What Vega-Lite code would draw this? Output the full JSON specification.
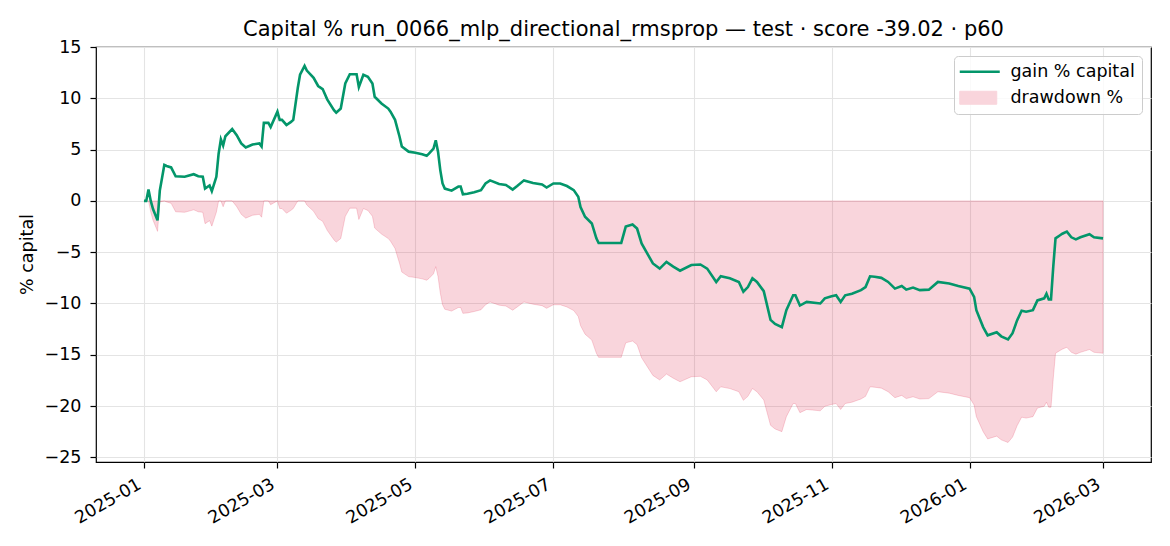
{
  "$schema": "https://vega.github.io/schema/vega-lite/v6.json",
  "description": "Capital % and drawdown % over the test period",
  "width": 1055,
  "height": 415,
  "autosize": {"type": "none"},
  "padding": {"left": 96, "top": 47, "right": 19, "bottom": 84},
  "title": {
    "text": "Capital % run_0066_mlp_directional_rmsprop — test · score -39.02 · p60",
    "font": "DejaVu Sans",
    "fontSize": 21,
    "fontWeight": "normal",
    "color": "black",
    "anchor": "middle",
    "baseline": "alphabetic",
    "offset": 11,
    "dy": 30
  },
  "data": {
    "values": [
      {"d": "2025-01-01", "gain": 0, "dd": 0},
      {"d": "2025-01-02", "gain": 0, "dd": 0},
      {"d": "2025-01-03", "gain": 1.1, "dd": 0},
      {"d": "2025-01-04", "gain": 0, "dd": -1.09},
      {"d": "2025-01-05", "gain": -0.8, "dd": -1.88},
      {"d": "2025-01-07", "gain": -1.9, "dd": -2.97},
      {"d": "2025-01-08", "gain": 1.0, "dd": -0.10},
      {"d": "2025-01-10", "gain": 3.5, "dd": 0},
      {"d": "2025-01-11", "gain": 3.4, "dd": -0.10},
      {"d": "2025-01-13", "gain": 3.26, "dd": -0.23},
      {"d": "2025-01-15", "gain": 2.4, "dd": -1.06},
      {"d": "2025-01-19", "gain": 2.35, "dd": -1.11},
      {"d": "2025-01-23", "gain": 2.6, "dd": -0.87},
      {"d": "2025-01-25", "gain": 2.4, "dd": -1.06},
      {"d": "2025-01-27", "gain": 2.35, "dd": -1.11},
      {"d": "2025-01-28", "gain": 1.2, "dd": -2.22},
      {"d": "2025-01-30", "gain": 1.5, "dd": -1.93},
      {"d": "2025-01-31", "gain": 0.95, "dd": -2.46},
      {"d": "2025-02-02", "gain": 2.35, "dd": -1.11},
      {"d": "2025-02-03", "gain": 4.6, "dd": 0},
      {"d": "2025-02-04", "gain": 6.0, "dd": 0},
      {"d": "2025-02-05", "gain": 5.4, "dd": -0.57},
      {"d": "2025-02-06", "gain": 6.3, "dd": 0},
      {"d": "2025-02-09", "gain": 7.0, "dd": 0},
      {"d": "2025-02-11", "gain": 6.4, "dd": -0.56},
      {"d": "2025-02-13", "gain": 5.6, "dd": -1.31},
      {"d": "2025-02-15", "gain": 5.2, "dd": -1.68},
      {"d": "2025-02-18", "gain": 5.5, "dd": -1.40},
      {"d": "2025-02-21", "gain": 5.6, "dd": -1.31},
      {"d": "2025-02-22", "gain": 5.3, "dd": -1.59},
      {"d": "2025-02-23", "gain": 7.6, "dd": 0},
      {"d": "2025-02-25", "gain": 7.6, "dd": 0},
      {"d": "2025-02-26", "gain": 7.2, "dd": -0.37},
      {"d": "2025-03-01", "gain": 8.7, "dd": 0},
      {"d": "2025-03-02", "gain": 7.9, "dd": -0.74},
      {"d": "2025-03-03", "gain": 7.9, "dd": -0.74},
      {"d": "2025-03-05", "gain": 7.4, "dd": -1.20},
      {"d": "2025-03-07", "gain": 7.7, "dd": -0.92},
      {"d": "2025-03-08", "gain": 7.9, "dd": -0.74},
      {"d": "2025-03-10", "gain": 11.0, "dd": 0},
      {"d": "2025-03-11", "gain": 12.3, "dd": 0},
      {"d": "2025-03-13", "gain": 13.15, "dd": 0},
      {"d": "2025-03-14", "gain": 12.7, "dd": -0.40},
      {"d": "2025-03-17", "gain": 12.0, "dd": -1.02},
      {"d": "2025-03-19", "gain": 11.2, "dd": -1.72},
      {"d": "2025-03-21", "gain": 10.9, "dd": -1.99},
      {"d": "2025-03-23", "gain": 9.9, "dd": -2.87},
      {"d": "2025-03-26", "gain": 8.85, "dd": -3.80},
      {"d": "2025-03-27", "gain": 8.6, "dd": -4.02},
      {"d": "2025-03-29", "gain": 9.0, "dd": -3.67},
      {"d": "2025-03-31", "gain": 11.45, "dd": -1.50},
      {"d": "2025-04-02", "gain": 12.35, "dd": -0.71},
      {"d": "2025-04-05", "gain": 12.35, "dd": -0.71},
      {"d": "2025-04-06", "gain": 11.1, "dd": -1.81},
      {"d": "2025-04-08", "gain": 12.3, "dd": -0.75},
      {"d": "2025-04-10", "gain": 12.1, "dd": -0.93},
      {"d": "2025-04-12", "gain": 11.45, "dd": -1.50},
      {"d": "2025-04-13", "gain": 10.15, "dd": -2.65},
      {"d": "2025-04-16", "gain": 9.5, "dd": -3.23},
      {"d": "2025-04-19", "gain": 9.0, "dd": -3.67},
      {"d": "2025-04-20", "gain": 8.7, "dd": -3.93},
      {"d": "2025-04-22", "gain": 7.9, "dd": -4.64},
      {"d": "2025-04-24", "gain": 6.25, "dd": -6.10},
      {"d": "2025-04-25", "gain": 5.3, "dd": -6.94},
      {"d": "2025-04-28", "gain": 4.8, "dd": -7.38},
      {"d": "2025-05-01", "gain": 4.7, "dd": -7.47},
      {"d": "2025-05-04", "gain": 4.55, "dd": -7.60},
      {"d": "2025-05-06", "gain": 4.4, "dd": -7.73},
      {"d": "2025-05-07", "gain": 4.6, "dd": -7.56},
      {"d": "2025-05-09", "gain": 5.1, "dd": -7.11},
      {"d": "2025-05-10", "gain": 5.9, "dd": -6.41},
      {"d": "2025-05-11", "gain": 4.8, "dd": -7.38},
      {"d": "2025-05-12", "gain": 3.0, "dd": -8.97},
      {"d": "2025-05-13", "gain": 1.7, "dd": -10.12},
      {"d": "2025-05-14", "gain": 1.2, "dd": -10.56},
      {"d": "2025-05-17", "gain": 1.0, "dd": -10.74},
      {"d": "2025-05-20", "gain": 1.4, "dd": -10.39},
      {"d": "2025-05-21", "gain": 1.4, "dd": -10.39},
      {"d": "2025-05-22", "gain": 0.65, "dd": -10.96},
      {"d": "2025-05-24", "gain": 0.7, "dd": -10.92},
      {"d": "2025-05-27", "gain": 0.85, "dd": -10.78},
      {"d": "2025-05-30", "gain": 1.05, "dd": -10.61},
      {"d": "2025-06-01", "gain": 1.7, "dd": -10.12},
      {"d": "2025-06-03", "gain": 2.0, "dd": -9.85},
      {"d": "2025-06-07", "gain": 1.65, "dd": -10.16},
      {"d": "2025-06-10", "gain": 1.55, "dd": -10.25},
      {"d": "2025-06-13", "gain": 1.1, "dd": -10.65},
      {"d": "2025-06-15", "gain": 1.45, "dd": -10.34},
      {"d": "2025-06-18", "gain": 2.0, "dd": -9.85},
      {"d": "2025-06-22", "gain": 1.75, "dd": -10.07},
      {"d": "2025-06-26", "gain": 1.6, "dd": -10.21},
      {"d": "2025-06-28", "gain": 1.3, "dd": -10.47},
      {"d": "2025-07-01", "gain": 1.7, "dd": -10.12},
      {"d": "2025-07-04", "gain": 1.7, "dd": -10.12},
      {"d": "2025-07-07", "gain": 1.45, "dd": -10.34},
      {"d": "2025-07-10", "gain": 1.05, "dd": -10.69},
      {"d": "2025-07-12", "gain": 0.4, "dd": -11.27},
      {"d": "2025-07-13", "gain": -0.6, "dd": -12.15},
      {"d": "2025-07-15", "gain": -1.55, "dd": -12.99},
      {"d": "2025-07-18", "gain": -2.2, "dd": -13.57},
      {"d": "2025-07-20", "gain": -3.65, "dd": -14.85},
      {"d": "2025-07-21", "gain": -4.1, "dd": -15.25},
      {"d": "2025-07-26", "gain": -4.1, "dd": -15.25},
      {"d": "2025-07-31", "gain": -4.1, "dd": -15.25},
      {"d": "2025-08-02", "gain": -2.5, "dd": -13.83},
      {"d": "2025-08-05", "gain": -2.3, "dd": -13.66},
      {"d": "2025-08-07", "gain": -2.7, "dd": -14.01},
      {"d": "2025-08-09", "gain": -4.15, "dd": -15.29},
      {"d": "2025-08-14", "gain": -6.1, "dd": -17.01},
      {"d": "2025-08-17", "gain": -6.6, "dd": -17.45},
      {"d": "2025-08-20", "gain": -5.95, "dd": -16.88},
      {"d": "2025-08-23", "gain": -6.4, "dd": -17.28},
      {"d": "2025-08-26", "gain": -6.8, "dd": -17.63},
      {"d": "2025-08-31", "gain": -6.25, "dd": -17.14},
      {"d": "2025-09-04", "gain": -6.2, "dd": -17.10},
      {"d": "2025-09-07", "gain": -6.6, "dd": -17.45},
      {"d": "2025-09-11", "gain": -7.9, "dd": -18.60},
      {"d": "2025-09-13", "gain": -7.35, "dd": -18.12},
      {"d": "2025-09-17", "gain": -7.55, "dd": -18.29},
      {"d": "2025-09-21", "gain": -7.9, "dd": -18.60},
      {"d": "2025-09-23", "gain": -8.85, "dd": -19.44},
      {"d": "2025-09-25", "gain": -8.4, "dd": -19.05},
      {"d": "2025-09-27", "gain": -7.55, "dd": -18.29},
      {"d": "2025-09-29", "gain": -7.9, "dd": -18.60},
      {"d": "2025-10-02", "gain": -8.8, "dd": -19.40},
      {"d": "2025-10-05", "gain": -11.6, "dd": -21.87},
      {"d": "2025-10-07", "gain": -12.0, "dd": -22.23},
      {"d": "2025-10-10", "gain": -12.3, "dd": -22.49},
      {"d": "2025-10-12", "gain": -10.65, "dd": -21.03},
      {"d": "2025-10-15", "gain": -9.2, "dd": -19.75},
      {"d": "2025-10-16", "gain": -9.2, "dd": -19.75},
      {"d": "2025-10-18", "gain": -10.2, "dd": -20.64},
      {"d": "2025-10-21", "gain": -9.85, "dd": -20.33},
      {"d": "2025-10-27", "gain": -10.0, "dd": -20.46},
      {"d": "2025-10-29", "gain": -9.5, "dd": -20.02},
      {"d": "2025-11-01", "gain": -9.3, "dd": -19.84},
      {"d": "2025-11-03", "gain": -9.2, "dd": -19.75},
      {"d": "2025-11-05", "gain": -9.85, "dd": -20.33},
      {"d": "2025-11-07", "gain": -9.2, "dd": -19.75},
      {"d": "2025-11-10", "gain": -9.05, "dd": -19.62},
      {"d": "2025-11-14", "gain": -8.7, "dd": -19.31},
      {"d": "2025-11-16", "gain": -8.4, "dd": -19.05},
      {"d": "2025-11-18", "gain": -7.35, "dd": -18.12},
      {"d": "2025-11-20", "gain": -7.4, "dd": -18.16},
      {"d": "2025-11-23", "gain": -7.5, "dd": -18.25},
      {"d": "2025-11-26", "gain": -7.9, "dd": -18.60},
      {"d": "2025-11-29", "gain": -8.55, "dd": -19.18},
      {"d": "2025-12-02", "gain": -8.3, "dd": -18.96},
      {"d": "2025-12-04", "gain": -8.65, "dd": -19.27},
      {"d": "2025-12-07", "gain": -8.45, "dd": -19.09},
      {"d": "2025-12-10", "gain": -8.7, "dd": -19.31},
      {"d": "2025-12-14", "gain": -8.65, "dd": -19.27},
      {"d": "2025-12-18", "gain": -7.9, "dd": -18.60},
      {"d": "2025-12-23", "gain": -8.05, "dd": -18.74},
      {"d": "2025-12-27", "gain": -8.3, "dd": -18.96},
      {"d": "2026-01-01", "gain": -8.55, "dd": -19.18},
      {"d": "2026-01-03", "gain": -9.35, "dd": -19.89},
      {"d": "2026-01-04", "gain": -10.65, "dd": -21.03},
      {"d": "2026-01-07", "gain": -12.3, "dd": -22.49},
      {"d": "2026-01-09", "gain": -13.1, "dd": -23.20},
      {"d": "2026-01-13", "gain": -12.8, "dd": -22.93},
      {"d": "2026-01-15", "gain": -13.2, "dd": -23.29},
      {"d": "2026-01-18", "gain": -13.5, "dd": -23.55},
      {"d": "2026-01-20", "gain": -12.9, "dd": -23.02},
      {"d": "2026-01-22", "gain": -11.65, "dd": -21.92},
      {"d": "2026-01-24", "gain": -10.7, "dd": -21.08},
      {"d": "2026-01-26", "gain": -10.8, "dd": -21.17},
      {"d": "2026-01-29", "gain": -10.65, "dd": -21.03},
      {"d": "2026-01-31", "gain": -9.7, "dd": -20.19},
      {"d": "2026-02-03", "gain": -9.5, "dd": -20.02},
      {"d": "2026-02-04", "gain": -9.05, "dd": -19.62},
      {"d": "2026-02-05", "gain": -9.6, "dd": -20.11},
      {"d": "2026-02-06", "gain": -9.6, "dd": -20.11},
      {"d": "2026-02-07", "gain": -6.4, "dd": -17.28},
      {"d": "2026-02-08", "gain": -3.65, "dd": -14.85},
      {"d": "2026-02-10", "gain": -3.35, "dd": -14.58},
      {"d": "2026-02-11", "gain": -3.2, "dd": -14.45},
      {"d": "2026-02-13", "gain": -3.0, "dd": -14.27},
      {"d": "2026-02-15", "gain": -3.55, "dd": -14.76},
      {"d": "2026-02-17", "gain": -3.75, "dd": -14.94},
      {"d": "2026-02-19", "gain": -3.55, "dd": -14.76},
      {"d": "2026-02-23", "gain": -3.25, "dd": -14.49},
      {"d": "2026-02-25", "gain": -3.55, "dd": -14.76},
      {"d": "2026-03-01", "gain": -3.65, "dd": -14.85}
    ]
  },
  "encoding": {
    "x": {
      "field": "d",
      "type": "temporal",
      "title": null,
      "scale": {
        "type": "utc",
        "domain": [
          {"year": 2024, "month": 12, "date": 10, "hours": 19, "utc": true},
          {"year": 2026, "month": 3, "date": 22, "hours": 5, "utc": true}
        ]
      },
      "axis": {
        "values": [
          {"year": 2025, "month": 1, "date": 1, "utc": true},
          {"year": 2025, "month": 3, "date": 1, "utc": true},
          {"year": 2025, "month": 5, "date": 1, "utc": true},
          {"year": 2025, "month": 7, "date": 1, "utc": true},
          {"year": 2025, "month": 9, "date": 1, "utc": true},
          {"year": 2025, "month": 11, "date": 1, "utc": true},
          {"year": 2026, "month": 1, "date": 1, "utc": true},
          {"year": 2026, "month": 3, "date": 1, "utc": true}
        ],
        "format": "%Y-%m",
        "labelAngle": -30,
        "labelAlign": "right",
        "labelBaseline": "top",
        "labelPadding": 7,
        "labelOffset": -9,
        "labelOverlap": false,
        "labelFlush": false
      }
    }
  },
  "layer": [
    {
      "mark": {
        "type": "area",
        "fill": "#dc143c",
        "fillOpacity": 0.18,
        "stroke": "#dc143c",
        "strokeOpacity": 0.18,
        "strokeWidth": 1
      },
      "encoding": {
        "y": {
          "field": "dd",
          "type": "quantitative",
          "title": "% capital",
          "scale": {"domain": [-25.45, 15.0], "zero": false, "nice": false},
          "axis": {
            "values": [-25, -20, -15, -10, -5, 0, 5, 10, 15],
            "labelExpr": "datum.value < 0 ? '−' + format(-datum.value, 'd') : format(datum.value, 'd')",
            "labelPadding": 9,
            "titleAngle": 270,
            "titleX": -69,
            "titleY": 207,
            "titleAlign": "center",
            "titleBaseline": "middle"
          }
        },
        "y2": {"datum": 0}
      }
    },
    {
      "mark": {"type": "rule", "color": "#9a9ea6", "strokeWidth": 1.2},
      "encoding": {"y": {"datum": 0}}
    },
    {
      "mark": {"type": "line", "strokeWidth": 2.6},
      "encoding": {
        "y": {"field": "gain", "type": "quantitative"},
        "color": {
          "datum": "gain % capital",
          "scale": {"domain": ["gain % capital", "drawdown %"], "range": ["#03966a", "#f9d5dc"]},
          "legend": {
            "title": null,
            "orient": "top-right",
            "offset": 9,
            "padding": 7,
            "fillColor": "rgba(255,255,255,0.8)",
            "strokeColor": "#cccccc",
            "cornerRadius": 4,
            "labelFont": "DejaVu Sans",
            "labelFontSize": 17.5,
            "labelColor": "black",
            "labelOffset": 32,
            "symbolSize": 400,
            "rowPadding": 7,
            "encode": {
              "symbols": {
                "update": {
                  "shape": {"signal": "datum.value === 'gain % capital' ? 'M-1,0H3' : 'M-1,-0.65H2.7V0.65H-1Z'"},
                  "fill": {"signal": "datum.value === 'gain % capital' ? 'transparent' : '#f9d5dc'"},
                  "stroke": {"signal": "datum.value === 'gain % capital' ? '#03966a' : '#f3b6c3'"},
                  "strokeWidth": {"signal": "datum.value === 'gain % capital' ? 2.6 : 1"},
                  "opacity": {"value": 1}
                }
              }
            }
          }
        }
      }
    }
  ],
  "config": {
    "font": "DejaVu Sans",
    "view": {"stroke": "black", "strokeWidth": 1.2},
    "axis": {
      "labelFont": "DejaVu Sans",
      "labelFontSize": 17.5,
      "labelColor": "black",
      "tickColor": "black",
      "tickSize": 6,
      "tickWidth": 1.2,
      "domain": false,
      "grid": true,
      "gridColor": "#e4e4e4",
      "gridWidth": 1.1,
      "titleFont": "DejaVu Sans",
      "titleFontSize": 17.5,
      "titleFontWeight": "normal",
      "titleColor": "black"
    }
  }
}
